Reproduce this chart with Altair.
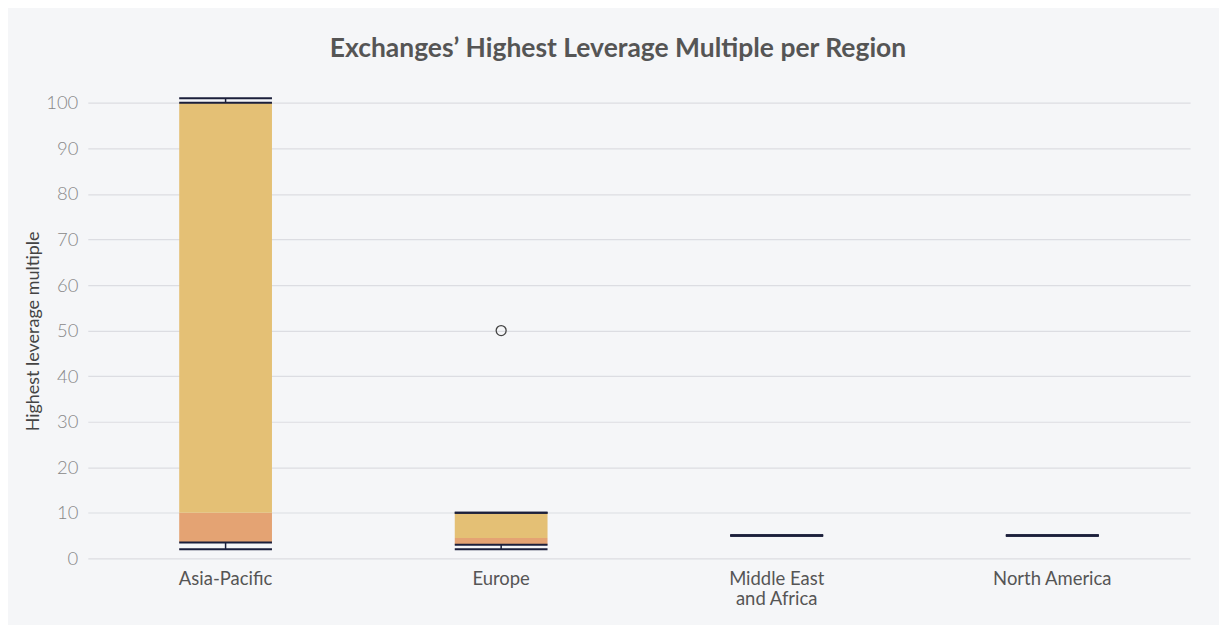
import altair as alt
import pandas as pd

regions = ["Asia-Pacific", "Europe", "Middle East and Africa", "North America"]
mins = [2, 2, 5, 5]
q1s = [3.5, 3, 5, 5]
medians = [10, 4.5, 5, 5]
q3s = [100, 10, 5, 5]
maxs = [101, 10, 5, 5]
outlier_regions = ["Europe"]
outlier_values = [50]

df = pd.DataFrame({"region": regions, "min": mins, "q1": q1s, "median": medians,
                   "q3": q3s, "max": maxs})
out = pd.DataFrame({"region": outlier_regions, "value": outlier_values})

NAVY = "#1b1f3b"
YELLOW = "#e4c075"
ORANGE = "#e4a373"
BOX_W = 93

xenc = alt.X("region:N", sort=regions, title=None,
             scale=alt.Scale(range=[-19, 1086], paddingInner=0, paddingOuter=0),
             axis=alt.Axis(labelExpr="datum.label == 'Middle East and Africa' ? ['Middle East', 'and Africa'] : datum.label",
                           labelAngle=0, labelFontSize=18.5, labelColor="#555", labelFont="Lato",
                           labelPadding=11, labelLineHeight=20, domain=False, ticks=False, grid=False))
yscale = alt.Scale(domain=[0, 104], nice=False, zero=True)
yaxis = alt.Axis(values=list(range(0, 101, 10)), title="Highest leverage multiple",
                 titleFont="Lato", titleFontSize=18, titleFontWeight="normal", titleColor="#444",
                 titlePadding=3, titleY=247, labelFont="Lato", labelFontSize=18.5, labelFontWeight=300,
                 labelColor="#888", labelPadding=29, domain=False, ticks=False,
                 grid=True, gridColor="#dcdde2", gridWidth=1.2)

base = alt.Chart(df)

whisk_lo = base.mark_rule(color=NAVY, strokeWidth=1.5).encode(
    x=xenc, y=alt.Y("min:Q", scale=yscale, axis=yaxis), y2="q1:Q")
whisk_hi = base.mark_rule(color=NAVY, strokeWidth=1.5).encode(
    x=xenc, y=alt.Y("q3:Q", scale=yscale), y2="max:Q")
box_lo = base.mark_bar(color=ORANGE, size=BOX_W).encode(
    x=xenc, y=alt.Y("q1:Q", scale=yscale), y2="median:Q")
box_hi = base.mark_bar(color=YELLOW, size=BOX_W).encode(
    x=xenc, y=alt.Y("median:Q", scale=yscale), y2="q3:Q")

def tick(field):
    return base.mark_tick(color=NAVY, size=BOX_W, thickness=2, opacity=1).encode(
        x=xenc, y=alt.Y(f"{field}:Q", scale=yscale))

outl = alt.Chart(out).mark_point(shape="circle", size=100, filled=False, color="#444",
                                 strokeWidth=1.3, opacity=1).encode(
    x=xenc, y=alt.Y("value:Q", scale=yscale))

chart = alt.layer(box_lo, box_hi, whisk_lo, whisk_hi, tick("min"), tick("max"),
                  tick("q1"), tick("q3"), outl).properties(
    width=1073, height=475,
    autosize=alt.AutoSizeParams(type="none"),
    padding={"left": 99, "top": 76, "right": 42, "bottom": 66},
    background="#f5f6f8",
    title=alt.TitleParams("Exchanges’ Highest Leverage Multiple per Region",
                          font="Lato", fontSize=26.5, fontWeight="bold", color="#555",
                          anchor="middle", dx=-24, offset=22),
).configure_view(stroke=None)

chart.save("out.html", embed_options={"renderer": "svg", "actions": False})
